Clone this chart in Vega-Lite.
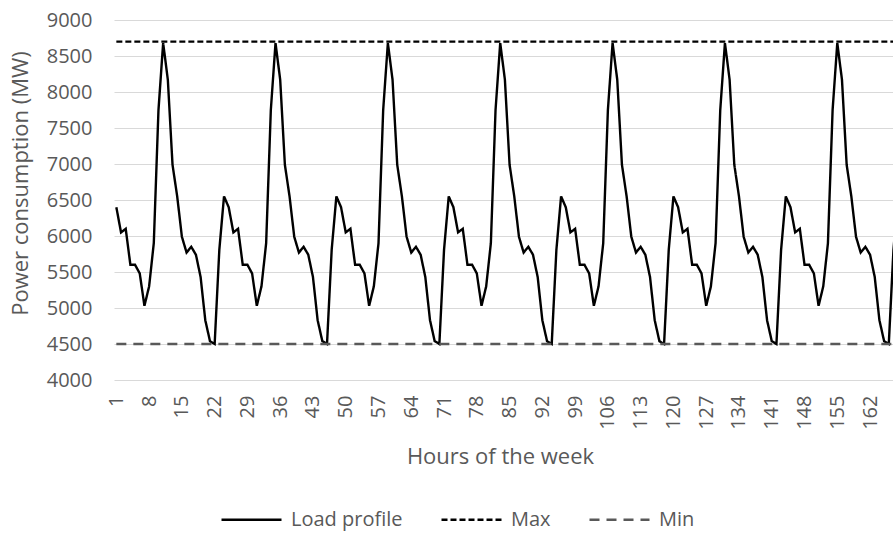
{
  "$schema": "https://vega.github.io/schema/vega-lite/v6.json",
  "width": 779,
  "height": 360,
  "autosize": {"type": "none"},
  "padding": {"left": 114, "top": 20, "right": 0, "bottom": 162},
  "background": "#ffffff",
  "data": {"values": [
    {"h":1,"s":"Load profile","v":6400},{"h":2,"s":"Load profile","v":6050},{"h":3,"s":"Load profile","v":6100},{"h":4,"s":"Load profile","v":5600},{"h":5,"s":"Load profile","v":5600},{"h":6,"s":"Load profile","v":5480},{"h":7,"s":"Load profile","v":5030},{"h":8,"s":"Load profile","v":5300},{"h":9,"s":"Load profile","v":5900},{"h":10,"s":"Load profile","v":7750},{"h":11,"s":"Load profile","v":8680},{"h":12,"s":"Load profile","v":8170},{"h":13,"s":"Load profile","v":6990},{"h":14,"s":"Load profile","v":6550},{"h":15,"s":"Load profile","v":5990},{"h":16,"s":"Load profile","v":5770},{"h":17,"s":"Load profile","v":5850},{"h":18,"s":"Load profile","v":5740},{"h":19,"s":"Load profile","v":5430},{"h":20,"s":"Load profile","v":4830},{"h":21,"s":"Load profile","v":4540},{"h":22,"s":"Load profile","v":4500},{"h":23,"s":"Load profile","v":5810},{"h":24,"s":"Load profile","v":6550},
    {"h":25,"s":"Load profile","v":6400},{"h":26,"s":"Load profile","v":6050},{"h":27,"s":"Load profile","v":6100},{"h":28,"s":"Load profile","v":5600},{"h":29,"s":"Load profile","v":5600},{"h":30,"s":"Load profile","v":5480},{"h":31,"s":"Load profile","v":5030},{"h":32,"s":"Load profile","v":5300},{"h":33,"s":"Load profile","v":5900},{"h":34,"s":"Load profile","v":7750},{"h":35,"s":"Load profile","v":8680},{"h":36,"s":"Load profile","v":8170},{"h":37,"s":"Load profile","v":6990},{"h":38,"s":"Load profile","v":6550},{"h":39,"s":"Load profile","v":5990},{"h":40,"s":"Load profile","v":5770},{"h":41,"s":"Load profile","v":5850},{"h":42,"s":"Load profile","v":5740},{"h":43,"s":"Load profile","v":5430},{"h":44,"s":"Load profile","v":4830},{"h":45,"s":"Load profile","v":4540},{"h":46,"s":"Load profile","v":4500},{"h":47,"s":"Load profile","v":5810},{"h":48,"s":"Load profile","v":6550},
    {"h":49,"s":"Load profile","v":6400},{"h":50,"s":"Load profile","v":6050},{"h":51,"s":"Load profile","v":6100},{"h":52,"s":"Load profile","v":5600},{"h":53,"s":"Load profile","v":5600},{"h":54,"s":"Load profile","v":5480},{"h":55,"s":"Load profile","v":5030},{"h":56,"s":"Load profile","v":5300},{"h":57,"s":"Load profile","v":5900},{"h":58,"s":"Load profile","v":7750},{"h":59,"s":"Load profile","v":8680},{"h":60,"s":"Load profile","v":8170},{"h":61,"s":"Load profile","v":6990},{"h":62,"s":"Load profile","v":6550},{"h":63,"s":"Load profile","v":5990},{"h":64,"s":"Load profile","v":5770},{"h":65,"s":"Load profile","v":5850},{"h":66,"s":"Load profile","v":5740},{"h":67,"s":"Load profile","v":5430},{"h":68,"s":"Load profile","v":4830},{"h":69,"s":"Load profile","v":4540},{"h":70,"s":"Load profile","v":4500},{"h":71,"s":"Load profile","v":5810},{"h":72,"s":"Load profile","v":6550},
    {"h":73,"s":"Load profile","v":6400},{"h":74,"s":"Load profile","v":6050},{"h":75,"s":"Load profile","v":6100},{"h":76,"s":"Load profile","v":5600},{"h":77,"s":"Load profile","v":5600},{"h":78,"s":"Load profile","v":5480},{"h":79,"s":"Load profile","v":5030},{"h":80,"s":"Load profile","v":5300},{"h":81,"s":"Load profile","v":5900},{"h":82,"s":"Load profile","v":7750},{"h":83,"s":"Load profile","v":8680},{"h":84,"s":"Load profile","v":8170},{"h":85,"s":"Load profile","v":6990},{"h":86,"s":"Load profile","v":6550},{"h":87,"s":"Load profile","v":5990},{"h":88,"s":"Load profile","v":5770},{"h":89,"s":"Load profile","v":5850},{"h":90,"s":"Load profile","v":5740},{"h":91,"s":"Load profile","v":5430},{"h":92,"s":"Load profile","v":4830},{"h":93,"s":"Load profile","v":4540},{"h":94,"s":"Load profile","v":4500},{"h":95,"s":"Load profile","v":5810},{"h":96,"s":"Load profile","v":6550},
    {"h":97,"s":"Load profile","v":6400},{"h":98,"s":"Load profile","v":6050},{"h":99,"s":"Load profile","v":6100},{"h":100,"s":"Load profile","v":5600},{"h":101,"s":"Load profile","v":5600},{"h":102,"s":"Load profile","v":5480},{"h":103,"s":"Load profile","v":5030},{"h":104,"s":"Load profile","v":5300},{"h":105,"s":"Load profile","v":5900},{"h":106,"s":"Load profile","v":7750},{"h":107,"s":"Load profile","v":8680},{"h":108,"s":"Load profile","v":8170},{"h":109,"s":"Load profile","v":6990},{"h":110,"s":"Load profile","v":6550},{"h":111,"s":"Load profile","v":5990},{"h":112,"s":"Load profile","v":5770},{"h":113,"s":"Load profile","v":5850},{"h":114,"s":"Load profile","v":5740},{"h":115,"s":"Load profile","v":5430},{"h":116,"s":"Load profile","v":4830},{"h":117,"s":"Load profile","v":4540},{"h":118,"s":"Load profile","v":4500},{"h":119,"s":"Load profile","v":5810},{"h":120,"s":"Load profile","v":6550},
    {"h":121,"s":"Load profile","v":6400},{"h":122,"s":"Load profile","v":6050},{"h":123,"s":"Load profile","v":6100},{"h":124,"s":"Load profile","v":5600},{"h":125,"s":"Load profile","v":5600},{"h":126,"s":"Load profile","v":5480},{"h":127,"s":"Load profile","v":5030},{"h":128,"s":"Load profile","v":5300},{"h":129,"s":"Load profile","v":5900},{"h":130,"s":"Load profile","v":7750},{"h":131,"s":"Load profile","v":8680},{"h":132,"s":"Load profile","v":8170},{"h":133,"s":"Load profile","v":6990},{"h":134,"s":"Load profile","v":6550},{"h":135,"s":"Load profile","v":5990},{"h":136,"s":"Load profile","v":5770},{"h":137,"s":"Load profile","v":5850},{"h":138,"s":"Load profile","v":5740},{"h":139,"s":"Load profile","v":5430},{"h":140,"s":"Load profile","v":4830},{"h":141,"s":"Load profile","v":4540},{"h":142,"s":"Load profile","v":4500},{"h":143,"s":"Load profile","v":5810},{"h":144,"s":"Load profile","v":6550},
    {"h":145,"s":"Load profile","v":6400},{"h":146,"s":"Load profile","v":6050},{"h":147,"s":"Load profile","v":6100},{"h":148,"s":"Load profile","v":5600},{"h":149,"s":"Load profile","v":5600},{"h":150,"s":"Load profile","v":5480},{"h":151,"s":"Load profile","v":5030},{"h":152,"s":"Load profile","v":5300},{"h":153,"s":"Load profile","v":5900},{"h":154,"s":"Load profile","v":7750},{"h":155,"s":"Load profile","v":8680},{"h":156,"s":"Load profile","v":8170},{"h":157,"s":"Load profile","v":6990},{"h":158,"s":"Load profile","v":6550},{"h":159,"s":"Load profile","v":5990},{"h":160,"s":"Load profile","v":5770},{"h":161,"s":"Load profile","v":5850},{"h":162,"s":"Load profile","v":5740},{"h":163,"s":"Load profile","v":5430},{"h":164,"s":"Load profile","v":4830},{"h":165,"s":"Load profile","v":4540},{"h":166,"s":"Load profile","v":4500},{"h":167,"s":"Load profile","v":5810},{"h":168,"s":"Load profile","v":6550},
    {"h":1,"s":"Max","v":8700},{"h":168,"s":"Max","v":8700},
    {"h":1,"s":"Min","v":4500},{"h":168,"s":"Min","v":4500}
  ]},
  "mark": {"type": "line", "strokeWidth": 2.4, "clip": true},
  "encoding": {
    "x": {
      "field": "h", "type": "quantitative",
      "scale": {"domain": [0.5, 166.9], "nice": false, "zero": false},
      "axis": {
        "values": [1,8,15,22,29,36,43,50,57,64,71,78,85,92,99,106,113,120,127,134,141,148,155,162],
        "title": "Hours of the week",
        "labelAngle": -90, "labelAlign": "right", "labelBaseline": "middle",
        "labelPadding": 15, "ticks": false, "domain": false, "grid": false,
        "labelFlush": false, "labelOverlap": false,
        "titleY": 76, "titleX": 386, "titleBaseline": "middle"
      }
    },
    "y": {
      "field": "v", "type": "quantitative",
      "scale": {"domain": [4000, 9000], "nice": false, "zero": false},
      "axis": {
        "values": [4000,4500,5000,5500,6000,6500,7000,7500,8000,8500,9000],
        "format": "d",
        "title": "Power consumption (MW)",
        "grid": true, "ticks": false, "domain": false, "labelPadding": 22,
        "titleX": -94, "titleY": 163, "titleAngle": -90, "titleAlign": "center", "titleBaseline": "middle"
      }
    },
    "color": {
      "field": "s", "type": "nominal",
      "scale": {"domain": ["Load profile", "Max", "Min"], "range": ["#000000", "#000000", "#595959"]},
      "legend": {"title": null}
    },
    "strokeDash": {
      "field": "s", "type": "nominal",
      "scale": {"domain": ["Load profile", "Max", "Min"], "range": [[1, 0], [6, 3], [10, 7]]},
      "legend": {"title": null}
    }
  },
  "config": {
    "view": {"stroke": null},
    "font": "Open Sans",
    "axis": {
      "labelFont": "Open Sans", "labelFontSize": 20, "labelColor": "#595959",
      "titleFont": "Open Sans", "titleFontSize": 22, "titleColor": "#595959", "titleFontWeight": "normal",
      "gridColor": "#d9d9d9", "gridWidth": 1
    },
    "legend": {
      "orient": "none", "legendX": 106, "legendY": 468, "direction": "horizontal",
      "symbolType": "stroke", "symbolSize": 3600, "symbolStrokeWidth": 2.4,
      "labelFont": "Open Sans", "labelFontSize": 20, "labelColor": "#595959",
      "labelOffset": 8, "columnPadding": 33
    }
  }
}
